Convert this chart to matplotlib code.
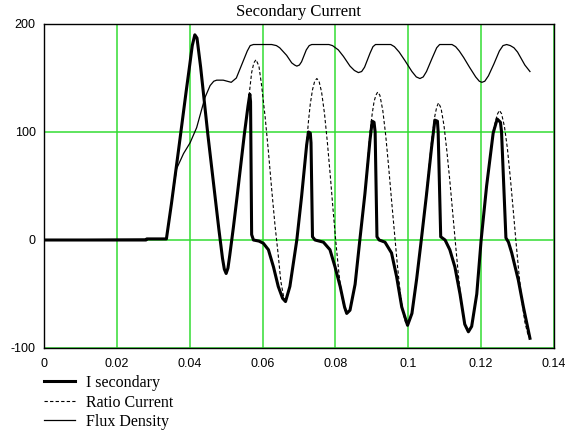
import matplotlib
matplotlib.use("Agg")
import matplotlib.pyplot as plt

# ---- data ----
t_isec = [0, 0.0280, 0.0282, 0.0336, 0.0350, 0.0370, 0.0390, 0.0400, 0.0407, 0.0414,
          0.0420, 0.0430, 0.0450, 0.0470, 0.0480, 0.0490, 0.0495, 0.0500, 0.0505, 0.0510,
          0.0520, 0.0530, 0.0540, 0.0550, 0.0560, 0.0565, 0.0567, 0.0570, 0.0575, 0.0590,
          0.0602, 0.0616, 0.0630, 0.0643, 0.0655, 0.0663, 0.0675, 0.0694, 0.0707, 0.0721,
          0.0726, 0.0731, 0.0733, 0.0737, 0.0744, 0.0767, 0.0785, 0.0799, 0.0813, 0.0825,
          0.0831, 0.0840, 0.0854, 0.0867, 0.0881, 0.0895, 0.0901, 0.0906, 0.0909, 0.0914,
          0.0920, 0.0936, 0.0954, 0.0968, 0.0982, 0.0998, 0.1010, 0.1023, 0.1035, 0.1050,
          0.1064, 0.1073, 0.1080, 0.1082, 0.1089, 0.1101, 0.1114, 0.1128, 0.1142, 0.1155,
          0.1165, 0.1174, 0.1188, 0.1200, 0.1215, 0.1233, 0.1244, 0.1253, 0.1256, 0.1268,
          0.1275, 0.1284, 0.1302, 0.1316, 0.1334]
i_secondary = [0, 0, 1, 1, 34, 85, 137, 162, 180, 190,
               187, 160, 97, 39, 10, -17, -27, -31, -26, -14,
               12, 40, 69, 98, 124, 135, 128, 5, 0, -1,
               -3, -9, -25, -43, -54, -57, -43, 0, 40, 88,
               100, 99, 90, 3, 0, -2, -9, -25, -43, -62,
               -68, -65, -41, 0, 43, 93, 110, 109, 100, 3,
               0, -2, -12, -34, -62, -79, -68, -36, -2, 42,
               86, 111, 110, 100, 3, 0, -9, -25, -50, -78,
               -85, -80, -50, 0, 50, 99, 112, 109, 100, 2,
               -2, -12, -37, -62, -91]

t_ratio = [0, 0.0280, 0.0282, 0.0336, 0.0350, 0.0370, 0.0390, 0.0400, 0.0407, 0.0414,
           0.0420, 0.0430, 0.0450, 0.0470, 0.0480, 0.0490, 0.0495, 0.0500, 0.0505, 0.0510,
           0.0520, 0.0530, 0.0540, 0.0550, 0.0560, 0.0565, 0.0570, 0.0576, 0.0582, 0.0590,
           0.0597, 0.0607, 0.0616, 0.0625, 0.0634, 0.0643, 0.0650, 0.0658, 0.0663, 0.0675,
           0.0694, 0.0707, 0.0721, 0.0726, 0.0731, 0.0737, 0.0743, 0.0749, 0.0755, 0.0762,
           0.0770, 0.0778, 0.0786, 0.0794, 0.0802, 0.0810, 0.0818, 0.0826, 0.0832, 0.0840,
           0.0854, 0.0867, 0.0881, 0.0895, 0.0901, 0.0906, 0.0911, 0.0916, 0.0922, 0.0930,
           0.0938, 0.0946, 0.0954, 0.0962, 0.0970, 0.0978, 0.0986, 0.0993, 0.0998, 0.1010,
           0.1023, 0.1035, 0.1050, 0.1064, 0.1073, 0.1078, 0.1083, 0.1090, 0.1098, 0.1106,
           0.1114, 0.1122, 0.1130, 0.1138, 0.1146, 0.1154, 0.1160, 0.1165, 0.1174, 0.1188,
           0.1200, 0.1215, 0.1233, 0.1244, 0.1250, 0.1256, 0.1264, 0.1272, 0.1280, 0.1288,
           0.1296, 0.1304, 0.1312, 0.1320, 0.1328, 0.1334]
ratio_current = [0, 0, 1, 1, 34, 85, 137, 162, 180, 190,
                 187, 160, 97, 39, 10, -17, -27, -31, -26, -14,
                 12, 40, 69, 98, 124, 140, 155, 164, 167, 161,
                 144, 114, 82, 47, 14, -14, -38, -53, -57, -43,
                 0, 40, 90, 110, 126, 139, 147, 149.5, 147, 137,
                 117, 90, 59, 26, -5, -32, -53, -65, -68, -65,
                 -41, 0, 43, 100, 117, 128, 134, 137, 134, 120,
                 97, 68, 37, 7, -23, -49, -68, -77, -79, -68,
                 -36, -2, 45, 92, 115, 123, 127, 122, 106, 82,
                 55, 25, -5, -34, -58, -76, -83, -85, -80, -50,
                 0, 50, 101, 116, 120, 117, 105, 85, 58, 28,
                 -3, -32, -57, -76, -87, -91]

t_flux = [0, 0.0336, 0.0350, 0.0364, 0.0383, 0.0401, 0.0419, 0.0428, 0.0442, 0.0456,
          0.0466, 0.0474, 0.0492, 0.0514, 0.0528, 0.0546, 0.0558, 0.0566, 0.0575, 0.0625,
          0.0638, 0.0647, 0.0666, 0.0680, 0.0688, 0.0694, 0.0701, 0.0707, 0.0720, 0.0728,
          0.0735, 0.0782, 0.0792, 0.0808, 0.0822, 0.0840, 0.0852, 0.0863, 0.0872, 0.0880,
          0.0895, 0.0903, 0.0910, 0.0952, 0.0962, 0.0975, 0.0991, 0.1010, 0.1022, 0.1032,
          0.1041, 0.1050, 0.1065, 0.1078, 0.1086, 0.1120, 0.1130, 0.1140, 0.1152, 0.1168,
          0.1185, 0.1195, 0.1202, 0.1210, 0.1220, 0.1235, 0.1250, 0.1260, 0.1270, 0.1280,
          0.1290, 0.1300, 0.1310, 0.1320, 0.1334]
flux_density = [0, 1, 34, 66, 80, 90, 104, 115, 132, 143,
                147, 148, 148, 146, 150, 165, 175, 180, 181, 181,
                180, 178, 171, 164, 162, 161, 162, 165, 176, 180,
                181, 181, 180, 176, 170, 161, 157, 155, 156, 160,
                173, 179, 181, 181, 179, 174, 166, 156, 151, 149.5,
                151, 156, 168, 178, 181, 181, 179, 175, 169, 160,
                151, 147, 146, 147, 152, 163, 175, 180, 181, 180,
                178, 174, 168, 162, 156]

x_ticks = [0, 0.02, 0.04, 0.06, 0.08, 0.1, 0.12, 0.14]
x_tick_labels = ["0", "0.02", "0.04", "0.06", "0.08", "0.1", "0.12", "0.14"]
y_ticks = [-100, 0, 100, 200]
y_tick_labels = ["-100", "0", "100", "200"]
title = "Secondary Current"
series_labels = ["I secondary", "Ratio Current", "Flux Density"]

# ---- drawing ----
plt.rcParams['font.family'] = ['Liberation Serif', 'DejaVu Serif']
W, H = 569, 432
fig = plt.figure(figsize=(W / 100, H / 100), dpi=100)
ax = fig.add_axes([44 / W, 1 - 348 / H, 510 / W, 324 / H])

ax.plot(t_isec, i_secondary, color='black', lw=2.2, solid_joinstyle='round',
        label=series_labels[0], zorder=4)
ax.plot(t_ratio, ratio_current, color='black', lw=0.8, linestyle=(0, (3, 2)),
        label=series_labels[1], zorder=3)
ax.plot(t_flux, flux_density, color='black', lw=0.9, label=series_labels[2], zorder=3)

ax.set_xlim(0, 0.14)
ax.set_ylim(-100, 200)
ax.set_xticks(x_ticks)
ax.set_xticklabels(x_tick_labels)
ax.set_yticks(y_ticks)
ax.set_yticklabels(y_tick_labels)
ax.tick_params(length=0, labelsize=9)
ax.tick_params(axis='y', pad=6)
ax.tick_params(axis='x', pad=7)
for lab in ax.get_xticklabels() + ax.get_yticklabels():
    lab.set_fontfamily(['Liberation Sans', 'DejaVu Sans'])
ax.grid(True, color='#33dd33', lw=1.1, zorder=1)
ax.set_axisbelow(True)
for s in ax.spines.values():
    s.set_color('black')
    s.set_linewidth(1.0)
    s.set_zorder(5)

fig.text(299 / W, 1 - 12 / H, title, ha='center', va='center', fontsize=12)

leg = ax.legend(loc='upper left', bbox_to_anchor=(44 / W, 1 - 375 / H),
                bbox_transform=fig.transFigure, frameon=False, fontsize=11.5,
                handlelength=1.95, handletextpad=0.7, labelspacing=0.22,
                borderpad=0, borderaxespad=0)

fig.savefig("out.png", dpi=100)
